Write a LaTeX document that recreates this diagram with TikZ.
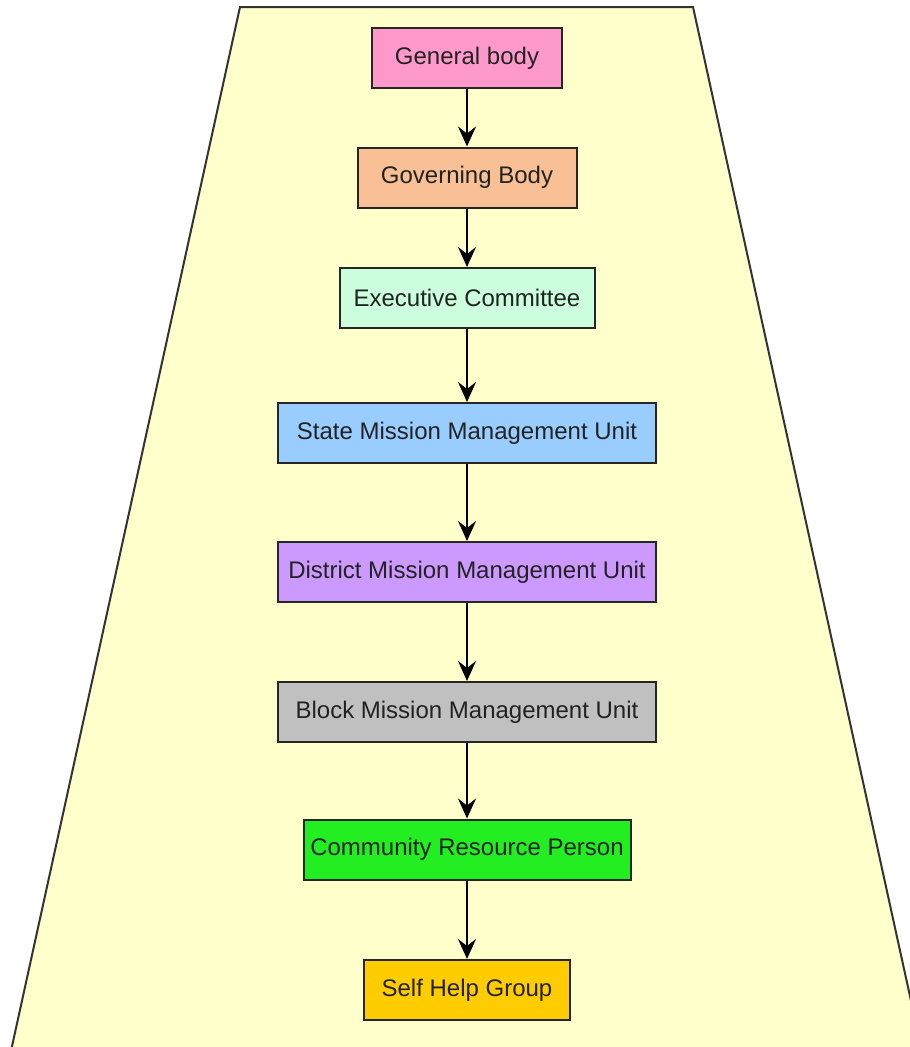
\documentclass[tikz,border=0pt]{standalone}
\usepackage{fontspec}
\setmainfont{Liberation Sans}
\usetikzlibrary{arrows.meta}
\definecolor{bg}{HTML}{FFFFCC}
\definecolor{cGen}{HTML}{FF99CC}
\definecolor{cGov}{HTML}{F9C095}
\definecolor{cExe}{HTML}{CCFFDD}
\definecolor{cSta}{HTML}{99CCFF}
\definecolor{cDis}{HTML}{CC99FF}
\definecolor{cBlo}{HTML}{C0C0C0}
\definecolor{cCom}{HTML}{22EE22}
\definecolor{cShg}{HTML}{FFCC00}
\definecolor{txt}{HTML}{222222}
\begin{document}
\begin{tikzpicture}[x=1pt,y=-1pt,
  box/.style={draw=black!85, line width=2pt, minimum height=60pt, inner sep=0pt,
    font=\fontsize{24}{28}\selectfont, text=txt},
  conn/.style={line width=2pt, -{Stealth[length=20pt,width=18pt,inset=7pt]}}]
\useasboundingbox (0,0) rectangle (910,1047);
\clip (0,0) rectangle (910,1047);
\fill[white] (0,0) rectangle (910,1047);
\filldraw[fill=bg, draw=black!80, line width=2pt] (240,7) -- (693,7) -- (924,1060) -- (9,1060) -- cycle;
\node[box, fill=cGen, minimum width=190pt] (gen) at (467,58) {General body};
\node[box, fill=cGov, minimum width=219pt] (gov) at (467,177.5) {Governing Body};
\node[box, fill=cExe, minimum width=255pt] (exe) at (467,298) {Executive Committee};
\node[box, fill=cSta, minimum width=378pt] (sta) at (467,433) {State Mission Management Unit};
\node[box, fill=cDis, minimum width=378pt] (dis) at (467,572) {District Mission Management Unit};
\node[box, fill=cBlo, minimum width=378pt] (blo) at (467,712) {Block Mission Management Unit};
\node[box, fill=cCom, minimum width=327pt] (com) at (467,849.5) {Community Resource Person};
\node[box, fill=cShg, minimum width=206pt] (shg) at (467,990) {Self Help Group};
\draw[conn] (gen) -- (gov);
\draw[conn] (gov) -- (exe);
\draw[conn] (exe) -- (sta);
\draw[conn] (sta) -- (dis);
\draw[conn] (dis) -- (blo);
\draw[conn] (blo) -- (com);
\draw[conn] (com) -- (shg);
\end{tikzpicture}
\end{document}
